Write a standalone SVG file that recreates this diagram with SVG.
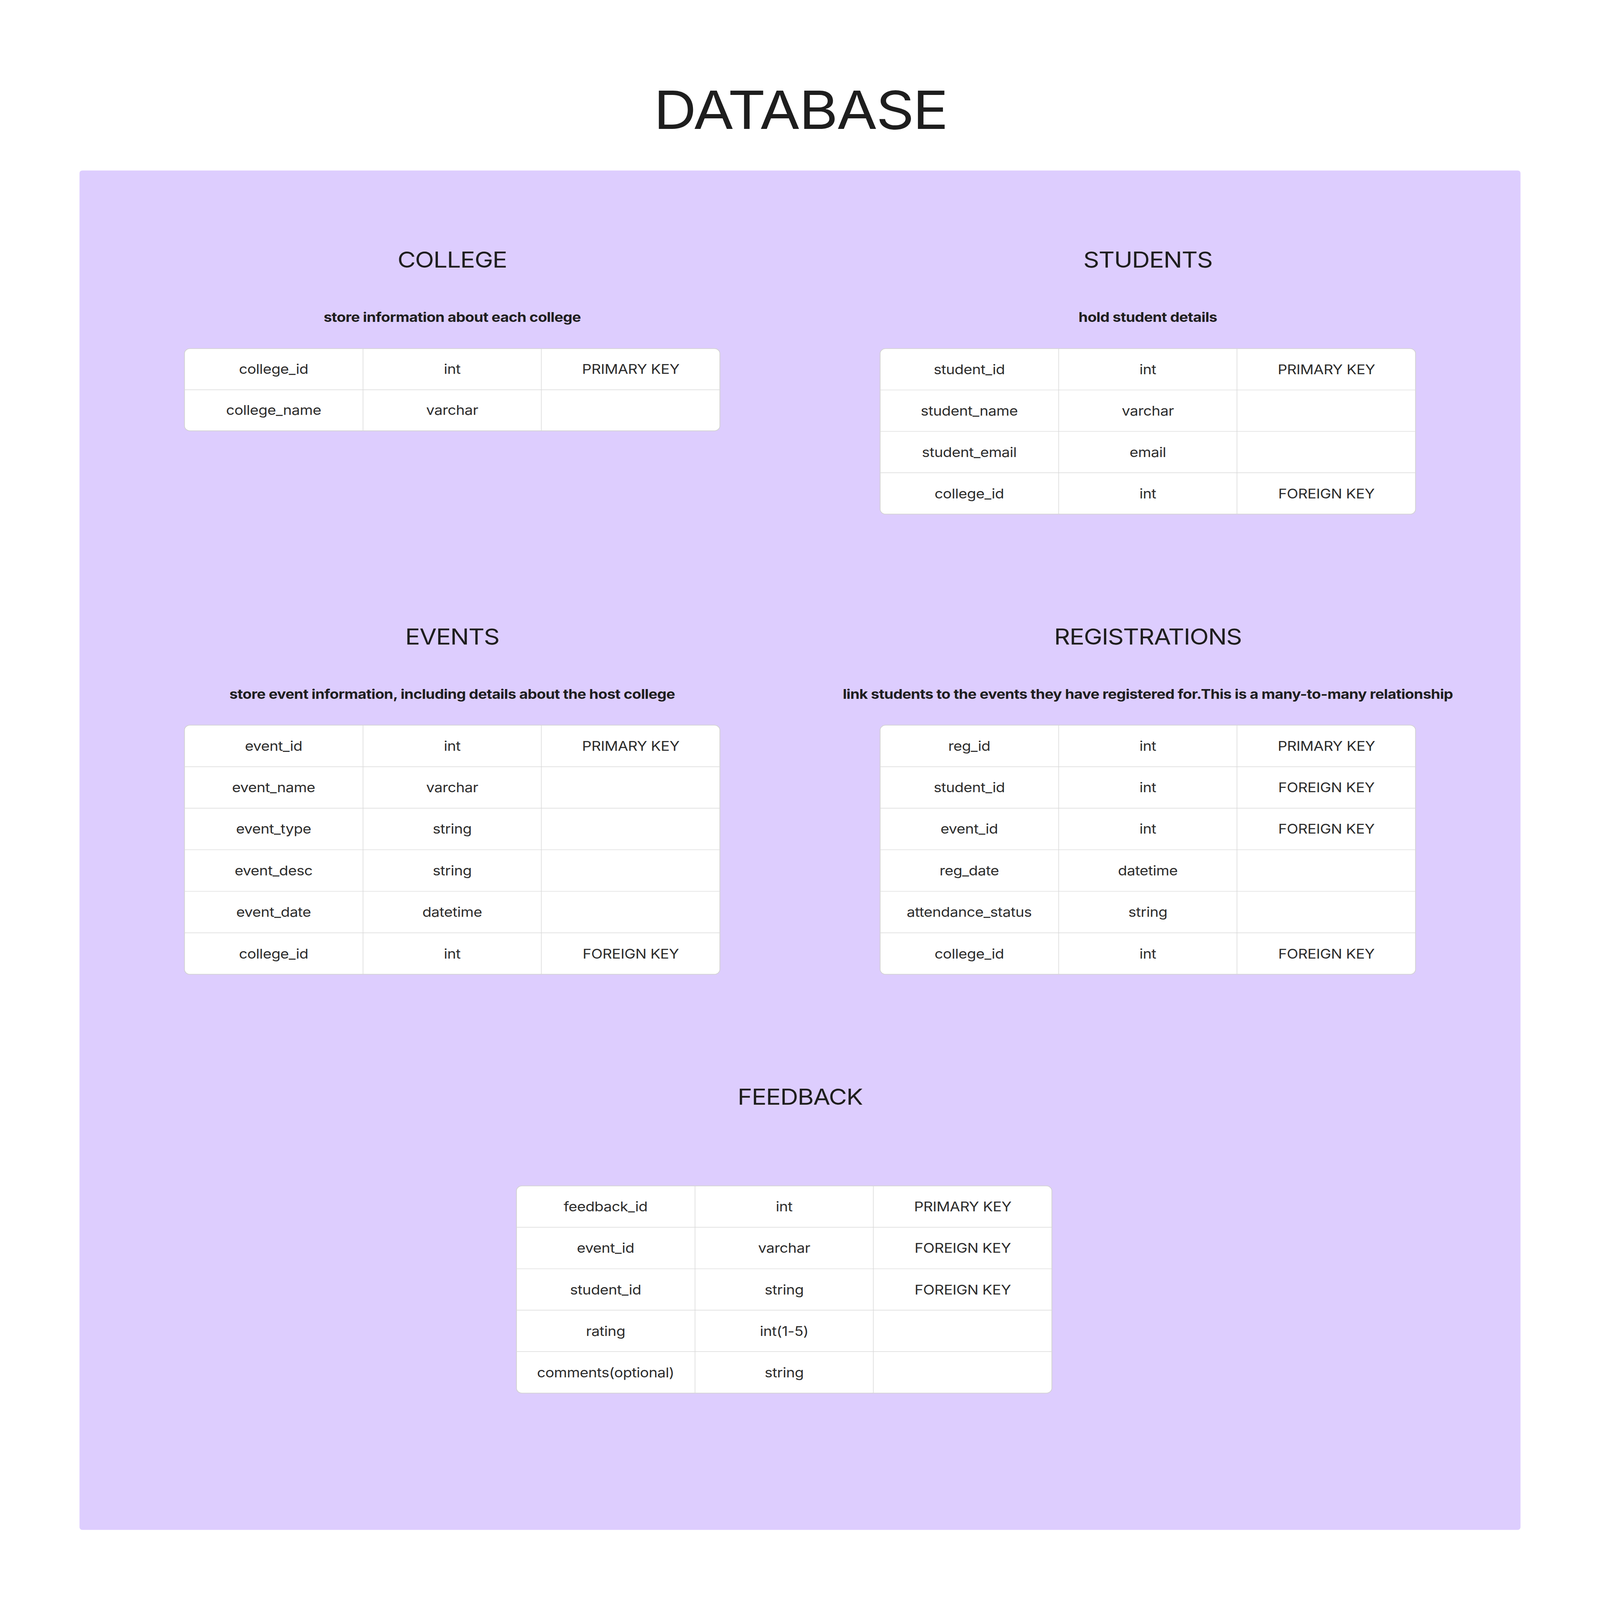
<svg xmlns="http://www.w3.org/2000/svg" width="5152" height="5838" viewBox="0 0 5152 5838" preserveAspectRatio="none">
<style>
  :root { width: 100vw; height: 100vh; display: block; }
  .bg { fill: #FFFFFF; }
  .panel { fill: #DDCDFE; }
  .main { font-family: Inter, "Liberation Sans", sans-serif; font-size: 192px; letter-spacing: -5px; fill: #1E1E1E; text-anchor: middle; }
  .title { font-family: Inter, "Liberation Sans", sans-serif; font-size: 80px; letter-spacing: -2px; fill: #1E1E1E; text-anchor: middle; }
  .sub { font-family: Inter, "Liberation Sans", sans-serif; font-size: 48px; font-weight: 700; letter-spacing: -0.85px; fill: #1E1E1E; text-anchor: middle; }
  .cell { font-family: Inter, "Liberation Sans", sans-serif; font-size: 48px; letter-spacing: -0.6px; fill: #2C2C2C; text-anchor: middle; }
  .tbl { fill: #FFFFFF; stroke: #D2D2D2; stroke-width: 2.5; }
  .grid { stroke: #DADADA; stroke-width: 2; fill: none; }
</style>
<rect class="bg" x="0" y="0" width="5152" height="5838"/>
<text class="main" x="2577" y="470">DATABASE</text>
<rect class="panel" x="256" y="622" width="4640" height="4960" rx="9"/>

<g id="college">
  <text class="title" x="1456" y="977">COLLEGE</text>
  <text class="sub" x="1456" y="1174">store information about each college</text>
  <rect class="tbl" x="594" y="1272" width="1724" height="300" rx="18"/>
  <path class="grid" d="M1169 1272V1572M1743 1272V1572M594 1422H2318"/>
  <text class="cell" x="881" y="1364">college_id</text>
  <text class="cell" x="1456" y="1364">int</text>
  <text class="cell" x="2031" y="1364">PRIMARY KEY</text>
  <text class="cell" x="881" y="1514">college_name</text>
  <text class="cell" x="1456" y="1514">varchar</text>
</g>

<g id="students">
  <text class="title" x="3696" y="977">STUDENTS</text>
  <text class="sub" x="3696" y="1174">hold student details</text>
  <rect class="tbl" x="2834" y="1272" width="1724" height="604" rx="18"/>
  <path class="grid" d="M3409 1272V1876M3983 1272V1876M2834 1423H4558M2834 1574H4558M2834 1725H4558"/>
  <text class="cell" x="3121" y="1365">student_id</text>
  <text class="cell" x="3696" y="1365">int</text>
  <text class="cell" x="4271" y="1365">PRIMARY KEY</text>
  <text class="cell" x="3121" y="1516">student_name</text>
  <text class="cell" x="3696" y="1516">varchar</text>
  <text class="cell" x="3121" y="1667">student_email</text>
  <text class="cell" x="3696" y="1667">email</text>
  <text class="cell" x="3121" y="1818">college_id</text>
  <text class="cell" x="3696" y="1818">int</text>
  <text class="cell" x="4271" y="1818">FOREIGN KEY</text>
</g>

<g id="events">
  <text class="title" x="1456" y="2352">EVENTS</text>
  <text class="sub" x="1456" y="2550">store event information, including details about the host college</text>
  <rect class="tbl" x="594" y="2646" width="1724" height="909" rx="18"/>
  <path class="grid" d="M1169 2646V3555M1743 2646V3555M594 2797.5H2318M594 2949H2318M594 3100.5H2318M594 3252H2318M594 3403.5H2318"/>
  <text class="cell" x="881" y="2739">event_id</text>
  <text class="cell" x="1456" y="2739">int</text>
  <text class="cell" x="2031" y="2739">PRIMARY KEY</text>
  <text class="cell" x="881" y="2891">event_name</text>
  <text class="cell" x="1456" y="2891">varchar</text>
  <text class="cell" x="881" y="3042">event_type</text>
  <text class="cell" x="1456" y="3042">string</text>
  <text class="cell" x="881" y="3194">event_desc</text>
  <text class="cell" x="1456" y="3194">string</text>
  <text class="cell" x="881" y="3345">event_date</text>
  <text class="cell" x="1456" y="3345">datetime</text>
  <text class="cell" x="881" y="3497">college_id</text>
  <text class="cell" x="1456" y="3497">int</text>
  <text class="cell" x="2031" y="3497">FOREIGN KEY</text>
</g>

<g id="registrations">
  <text class="title" x="3696" y="2352">REGISTRATIONS</text>
  <text class="sub" x="3696" y="2550">link students to the events they have registered for.This is a many-to-many relationship</text>
  <rect class="tbl" x="2834" y="2646" width="1724" height="909" rx="18"/>
  <path class="grid" d="M3409 2646V3555M3983 2646V3555M2834 2797.5H4558M2834 2949H4558M2834 3100.5H4558M2834 3252H4558M2834 3403.5H4558"/>
  <text class="cell" x="3121" y="2739">reg_id</text>
  <text class="cell" x="3696" y="2739">int</text>
  <text class="cell" x="4271" y="2739">PRIMARY KEY</text>
  <text class="cell" x="3121" y="2891">student_id</text>
  <text class="cell" x="3696" y="2891">int</text>
  <text class="cell" x="4271" y="2891">FOREIGN KEY</text>
  <text class="cell" x="3121" y="3042">event_id</text>
  <text class="cell" x="3696" y="3042">int</text>
  <text class="cell" x="4271" y="3042">FOREIGN KEY</text>
  <text class="cell" x="3121" y="3194">reg_date</text>
  <text class="cell" x="3696" y="3194">datetime</text>
  <text class="cell" x="3121" y="3345">attendance_status</text>
  <text class="cell" x="3696" y="3345">string</text>
  <text class="cell" x="3121" y="3497">college_id</text>
  <text class="cell" x="3696" y="3497">int</text>
  <text class="cell" x="4271" y="3497">FOREIGN KEY</text>
</g>

<g id="feedback">
  <text class="title" x="2576" y="4031">FEEDBACK</text>
  <rect class="tbl" x="1663" y="4327" width="1724" height="756" rx="18"/>
  <path class="grid" d="M2238 4327V5083M2812 4327V5083M1663 4478H3387M1663 4629.5H3387M1663 4780.5H3387M1663 4931.5H3387"/>
  <text class="cell" x="1950" y="4420">feedback_id</text>
  <text class="cell" x="2525" y="4420">int</text>
  <text class="cell" x="3100" y="4420">PRIMARY KEY</text>
  <text class="cell" x="1950" y="4571">event_id</text>
  <text class="cell" x="2525" y="4571">varchar</text>
  <text class="cell" x="3100" y="4571">FOREIGN KEY</text>
  <text class="cell" x="1950" y="4723">student_id</text>
  <text class="cell" x="2525" y="4723">string</text>
  <text class="cell" x="3100" y="4723">FOREIGN KEY</text>
  <text class="cell" x="1950" y="4874">rating</text>
  <text class="cell" x="2525" y="4874">int(1-5)</text>
  <text class="cell" x="1950" y="5025">comments(optional)</text>
  <text class="cell" x="2525" y="5025">string</text>
</g>

<g id="connectors"></g>
</svg>
